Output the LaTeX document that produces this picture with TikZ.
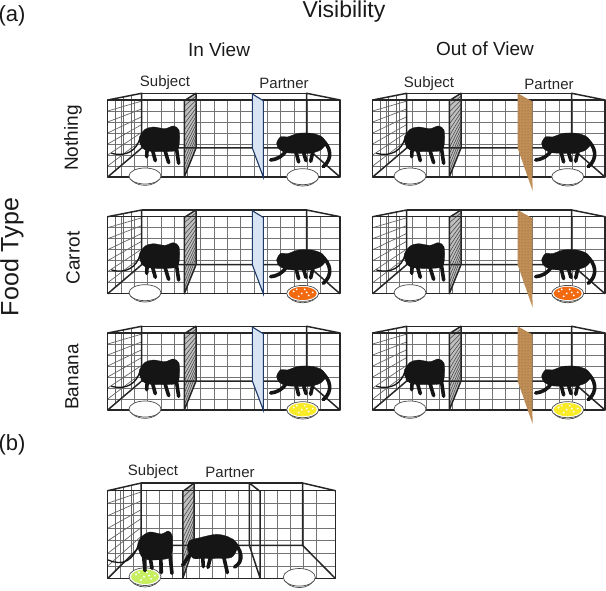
\documentclass[tikz,border=0pt]{standalone}
\usepackage{fontspec}
\setmainfont{Liberation Sans}
\usetikzlibrary{patterns}
\definecolor{carrot}{HTML}{F26A10}
\definecolor{banana}{HTML}{FAEB28}
\definecolor{lime}{HTML}{C8EE62}
\definecolor{viewblue}{HTML}{D8E4F4}
\definecolor{viewedge}{HTML}{1F3A68}
\definecolor{woodtan}{HTML}{C08F58}
\definecolor{fur}{HTML}{151515}
\tikzset{
    gridline/.style={black!55,line width=0.8pt},
    wallline/.style={black!60,line width=0.7pt},
    frameline/.style={black!85,line width=1.5pt,line join=round},
    monkey/.style={fill=fur,draw=fur,line width=0.3pt},
    monkeylimb/.style={draw=fur,line width=3.6pt,line cap=round},
    monkeytail/.style={draw=fur,line width=1.3pt,line cap=round},
    rimline/.style={black!70,line width=0.7pt},
    label/.style={font=\fontsize{15}{17}\selectfont,text=black!85},
    heading/.style={font=\fontsize{19}{21}\selectfont,text=black!90},
    sidelabel/.style={font=\fontsize{19}{21}\selectfont,text=black!90,rotate=90},
    biglabel/.style={font=\fontsize{22}{24}\selectfont,text=black!90},
}
%% one cage, origin on the front top left corner
\newcommand{\cageframe}{%
    %% mesh on the front
    \foreach \gx in {13.3,26.6,...,225} {\draw[gridline] (\gx,0) -- (\gx,77);}
    \foreach \gy in {11,22,...,70} {\draw[gridline] (0,\gy) -- (232.3,\gy);}
    %% mesh on the left wall
    \foreach \gy in {11,22,...,70} {\draw[wallline] (0,\gy) -- (34,{-6.7+\gy*0.71});}
    \foreach \gx in {8,16,24} {\draw[wallline] (\gx,{-\gx*0.2}) -- (\gx,{77-\gx*0.85});}
    %% left divider
    \fill[black!25] (76.6,0.7) -- (88.3,-5) -- (88.3,48) -- (76.6,77) -- cycle;
    \foreach \gy in {6,12,...,72} {\draw[black!70,line width=0.6pt] (76.6,\gy) -- (88.3,{\gy*0.68-8});}
    %% heavy frame
    \draw[frameline] (0,0) rectangle (232.3,77);
    \draw[frameline] (34,-6.7) -- (199,-6.7);
    \draw[frameline] (0,0) -- (34,-6.7) -- (34,48) -- (199,48) -- (199,-6.7) -- (232.3,0);
    \draw[frameline] (0,77) -- (34,48);
    \draw[frameline] (232.3,77) -- (199,48);
    \draw[frameline] (76.6,0.7) -- (88.3,-6.7) -- (88.3,48) -- (76.6,77) -- cycle;
}
%% see-through divider
\newcommand{\viewpanel}{%
    \fill[viewblue] (144.6,-6) -- (155.6,0.7) -- (155.6,77) -- (144.6,48) -- cycle;
    \draw[viewedge,line width=1.1pt] (155.6,0.7) -- (144.6,-6) -- (144.6,48) -- (155.6,77) -- cycle;
}
%% opaque divider
\newcommand{\blockpanel}{%
    \fill[woodtan] (145,-6.7) -- (159.6,1.5) -- (159.6,76) -- (160,91) -- (155,77) -- (145,48) -- cycle;
    \fill[pattern=dots,pattern color=brown!70!black] (145,-6.7) -- (159.6,1.5) -- (159.6,76) -- (155,77) -- (145,48) -- cycle;
}
%% open divider, bare frame
\newcommand{\barepanel}{%
    \draw[frameline] (155.6,0.7) -- (144.6,-6.7) -- (144.6,48) -- (155.6,77) -- cycle;
}
%% #1 food colour, bowl centre is the scope origin
\newcommand{\foodbowl}[1]{%
    \fill[white] (-16,0) .. controls (-12,12.5) and (12,12.5) .. (16,0) -- cycle;
    \draw[rimline] (-16,0) .. controls (-12,12.5) and (12,12.5) .. (16,0);
    \draw[rimline,black!40] (-15,3) .. controls (-10,9) and (10,9) .. (15,3);
    \filldraw[fill=white,draw=black!70,line width=0.7pt] (0,0) ellipse (16 and 8);
    \fill[#1] (0,0) ellipse (14 and 6.6);
    \foreach \sx/\sy in {-9/-2,-4/3,2/-4,6/2,10/-1,-1/0,-6/-4,4/-1} {\fill[white] (\sx,\sy) circle (1);}
}
\newcommand{\subjectmonkey}{%
    \draw[monkeytail] (150,235) .. controls (140,270) and (110,292) .. (65,280);
    \fill[monkey] plot[smooth cycle,tension=.5] coordinates {(148,232) (165,208) (190,201) (225,206) (250,198) (267,210) (268,250) (258,272) (200,275) (165,270) (150,250)};
    \draw[monkeylimb] (258,255) -- (266,310);
    \draw[monkeylimb] (222,262) -- (236,308);
    \draw[monkeylimb] (186,265) -- (196,302);
    \draw[monkeylimb] (172,260) -- (170,290);
}
\newcommand{\partnermonkey}{%
    \fill[monkey] plot[smooth cycle,tension=.5] coordinates {(560,250) (572,230) (592,231) (625,220) (665,220) (695,230) (708,250) (692,270) (660,280) (625,280) (590,278) (568,268)};
    \draw[monkeylimb] (590,268) .. controls (580,290) and (560,298) .. (542,300);
    \draw[monkeylimb] (618,275) -- (626,306);
    \draw[monkeylimb] (640,275) -- (648,302);
    \draw[monkeylimb] (670,270) -- (662,304);
    \draw[monkeylimb] (695,238) .. controls (722,260) and (730,295) .. (700,320);
}
\begin{document}
\begin{tikzpicture}[x=1pt,y=-1pt]
    \useasboundingbox (0,0) rectangle (606,591);
    %% headings
    \node[biglabel] (parta) at (12,16) {(a)};
    \node[biglabel] (partb) at (12,445) {(b)};
    \node[font=\fontsize{23}{25}\selectfont,text=black!90] (visibility) at (344,12) {Visibility};
    \node[heading] (inview) at (219,50) {In View};
    \node[heading] (outview) at (485,49) {Out of View};
    \node[font=\fontsize{25}{27}\selectfont,text=black!90,rotate=90] (foodtype) at (12,257) {Food Type};
    \node[sidelabel] (nothing) at (73,138) {Nothing};
    \node[sidelabel] (carrotrow) at (73,258) {Carrot};
    \node[sidelabel] (bananarow) at (72,377) {Banana};
    \node[label] (subjecta) at (165,83) {Subject};
    \node[label] (partnera) at (284,83) {Partner};
    \node[label] (subjectb) at (429,84) {Subject};
    \node[label] (partnerb) at (549,84) {Partner};
    \node[label] (subjectc) at (153,472) {Subject};
    \node[label] (partnerc) at (230,472) {Partner};
    %% the six test cages
    \foreach \colx/\divider in {107.7/\viewpanel,372.7/\blockpanel} {
        \foreach \rowy/\food in {100/white,216.7/carrot,333/banana} {
            \begin{scope}[shift={(\colx,\rowy)}]
                \cageframe
                \divider
                \begin{scope}[shift={(37.3,76)}]
                    \foodbowl{white}
                \end{scope}
                \begin{scope}[shift={(195,76.7)}]
                    \foodbowl{\food}
                \end{scope}
                \begin{scope}[shift={(-17.7,-40)},scale=0.3333]
                    \subjectmonkey
                    \partnermonkey
                \end{scope}
            \end{scope}
        }
    }
    %% the single cage below
    \begin{scope}[shift={(107.7,490.7)},xscale=0.98,yscale=1.14]
        \cageframe
        \barepanel
    \end{scope}
    \begin{scope}[shift={(145,576.7)},yscale=1.1]
        \foodbowl{lime}
    \end{scope}
    \begin{scope}[shift={(299.3,577.3)},yscale=1.1]
        \foodbowl{white}
    \end{scope}
    \begin{scope}[shift={(90,460)},scale=0.3333]
        \draw[monkeytail] (145,255) .. controls (130,300) and (100,320) .. (55,300);
        \fill[monkey] plot[smooth cycle,tension=.5] coordinates {(143,255) (155,230) (180,216) (215,222) (235,213) (247,228) (247,272) (235,295) (180,300) (155,290)};
        \draw[monkeylimb] (238,270) -- (246,340);
        \draw[monkeylimb] (212,285) -- (214,338);
        \draw[monkeylimb] (180,290) -- (186,325);
        \draw[monkeylimb] (160,280) -- (165,332);
        \fill[monkey] plot[smooth cycle,tension=.5] coordinates {(293,270) (298,243) (330,233) (380,223) (420,233) (442,260) (425,292) (380,295) (340,295) (310,295)};
        \draw[monkeylimb] (302,280) -- (278,316);
        \draw[monkeylimb] (338,290) -- (340,320);
        \draw[monkeylimb] (362,290) -- (354,322);
        \draw[monkeylimb] (400,285) -- (412,338);
        \draw[monkeylimb] (425,240) .. controls (458,270) and (462,305) .. (434,321);
    \end{scope}
\end{tikzpicture}
\end{document}
